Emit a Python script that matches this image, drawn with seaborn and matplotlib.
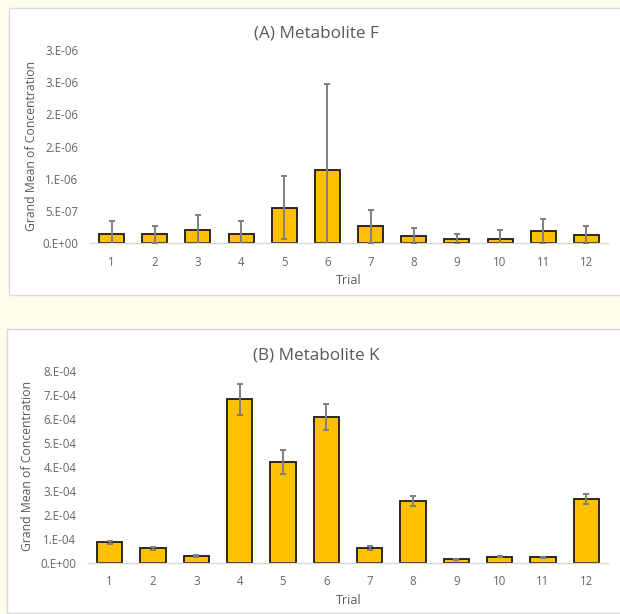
import matplotlib
matplotlib.use("Agg")
import matplotlib.pyplot as plt
from matplotlib.patches import Rectangle
import seaborn as sns
import pandas as pd

# ---- data ----
trials = ["1", "2", "3", "4", "5", "6", "7", "8", "9", "10", "11", "12"]

f_means = [1.35e-7, 1.35e-7, 2.0e-7, 1.4e-7, 5.5e-7, 1.135e-6, 2.6e-7, 1.1e-7, 0.62e-7, 0.62e-7, 1.8e-7, 1.25e-7]
f_errs = [2.05e-7, 1.35e-7, 2.35e-7, 2.0e-7, 4.85e-7, 1.33e-6, 2.55e-7, 1.3e-7, 0.73e-7, 1.4e-7, 1.9e-7, 1.45e-7]
f_ticks = [0, 5e-7, 1e-6, 1.5e-6, 2e-6, 2.5e-6, 3e-6]
f_ticklabels = ["0.E+00", "5.E-07", "1.E-06", "2.E-06", "2.E-06", "3.E-06", "3.E-06"]

k_means = [0.85e-4, 0.6e-4, 0.29e-4, 6.82e-4, 4.2e-4, 6.07e-4, 0.6e-4, 2.57e-4, 0.14e-4, 0.25e-4, 0.22e-4, 2.66e-4]
k_errs = [0.06e-4, 0.05e-4, 0.04e-4, 0.65e-4, 0.5e-4, 0.55e-4, 0.09e-4, 0.22e-4, 0.01e-4, 0.03e-4, 0.02e-4, 0.2e-4]
k_ticks = [0, 1e-4, 2e-4, 3e-4, 4e-4, 5e-4, 6e-4, 7e-4, 8e-4]
k_ticklabels = ["0.E+00", "1.E-04", "2.E-04", "3.E-04", "4.E-04", "5.E-04", "6.E-04", "7.E-04", "8.E-04"]

titles = ["(A) Metabolite F", "(B) Metabolite K"]
xlabel = "Trial"
ylabel = "Grand Mean of Concentration"

# ---- style ----
sns.set_theme(style="white")
plt.rcParams["font.family"] = ["Open Sans", "DejaVu Sans"]

W, H = 620, 614
fig = plt.figure(figsize=(W / 100, H / 100), dpi=100)
fig.patch.set_facecolor("#FFFCEC")

TXT = "#595959"
TICK = "#666666"
BAR = "#FFC000"
ERR = "#7F7F7F"


def fx(px):
    return px / W


def fy(py):
    return 1 - py / H


# panel backgrounds
for (x0, y0, x1, y1) in [(9, 8, 622, 295), (7, 329, 622, 613)]:
    fig.patches.append(Rectangle((fx(x0), fy(y1)), fx(x1 - x0), (y1 - y0) / H,
                                 transform=fig.transFigure, facecolor="white",
                                 edgecolor="#D9D9D9", linewidth=1.0, zorder=-10))

panels = [
    dict(means=f_means, errs=f_errs, ticks=f_ticks, labels=f_ticklabels,
         left=90, right=608, base=243, top=50, ymax=3e-6,
         title_y=33, ylab_x=32, xl_y=280),
    dict(means=k_means, errs=k_errs, ticks=k_ticks, labels=k_ticklabels,
         left=88, right=608, base=562.7, top=371, ymax=8e-4,
         title_y=355, ylab_x=28, xl_y=600),
]

for i, p in enumerate(panels):
    ax = fig.add_axes([fx(p["left"]), fy(p["base"]), fx(p["right"] - p["left"]),
                       (p["base"] - p["top"]) / H])
    ax.set_facecolor("none")
    df = pd.DataFrame({"Trial": trials, "Value": p["means"]})
    sns.barplot(data=df, x="Trial", y="Value", ax=ax, color=BAR, width=0.58,
                edgecolor="#1a1a1a", linewidth=1.3, saturation=1, errorbar=None,
                zorder=2)
    ax.errorbar(range(len(trials)), p["means"], yerr=p["errs"], fmt="none",
                ecolor=ERR, elinewidth=1.4, capsize=2.5, capthick=1.4, zorder=3)
    ax.set_xlim(-0.5, len(trials) - 0.5)
    ax.set_ylim(0, p["ymax"])
    ax.set_yticks(p["ticks"])
    ax.set_yticklabels(p["labels"])
    for s in ["top", "right", "left"]:
        ax.spines[s].set_visible(False)
    ax.spines["bottom"].set_color("#D9D9D9")
    ax.spines["bottom"].set_linewidth(1.0)
    ax.tick_params(axis="both", length=0, colors=TICK, labelsize=8.3)
    ax.tick_params(axis="y", pad=8.5)
    ax.tick_params(axis="x", pad=9)
    ax.set_xlabel("")
    ax.set_ylabel("")
    ax.grid(False)

    fig.text(fx(316), fy(p["title_y"]), titles[i], ha="center", va="center",
             fontsize=12.3, color=TXT)
    fig.text(fx(349), fy(p["xl_y"]), xlabel, ha="center", va="center",
             fontsize=9, color=TXT)
    fig.text(fx(p["ylab_x"]), fy((p["base"] + p["top"]) / 2 - 1), ylabel,
             ha="center", va="center", rotation=90, fontsize=8.8, color=TXT)

fig.savefig("out.png", dpi=100, facecolor=fig.get_facecolor())
